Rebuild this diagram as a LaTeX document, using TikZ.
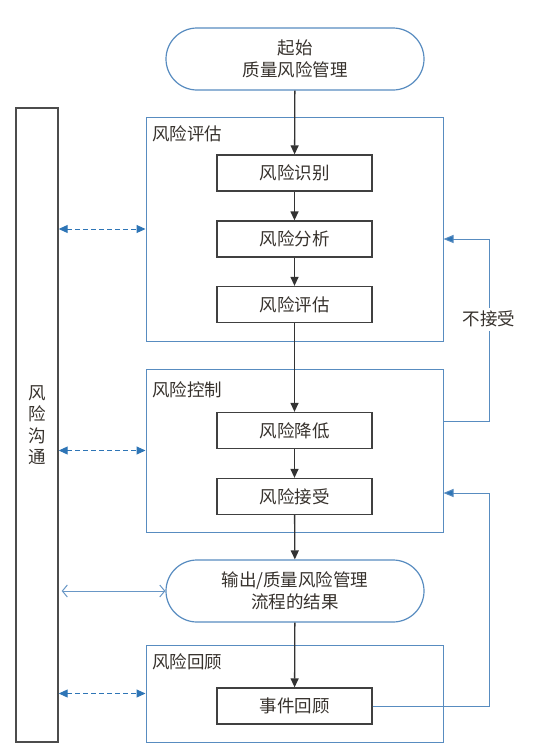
\documentclass[tikz,border=0pt]{standalone}
\usepackage{fontspec}
\setmainfont{Noto Sans CJK SC}
\usetikzlibrary{arrows.meta}
\definecolor{frameblue}{RGB}{88,140,192}
\definecolor{arrowblue}{RGB}{46,117,182}
\definecolor{txtgray}{RGB}{55,50,45}
\begin{document}
\begin{tikzpicture}[x=1pt,y=-1pt,
  every node/.style={font=\fontsize{17.5}{22}\selectfont, text=txtgray},
  stadium/.style={draw=frameblue, line width=1.2pt, rounded corners=31pt, minimum width=258pt, minimum height=62pt, align=center},
  stepbox/.style={draw=black!75, line width=1.3pt, minimum width=155pt, minimum height=36pt},
  group/.style={draw=frameblue, line width=1pt, minimum width=297pt},
  grouptitle/.style={anchor=west, inner sep=0pt},
  flow/.style={draw=black!80, line width=1.3pt, -{Triangle[length=9pt,width=8pt]}},
  talk/.style={draw=arrowblue, line width=1pt, dash pattern=on 5pt off 3pt, {Triangle[length=9pt,width=8pt]}-{Triangle[length=9pt,width=8pt]}},
  feedback/.style={draw=frameblue, line width=1pt, -{Triangle[length=10pt,width=8pt,fill=arrowblue]}}]
\useasboundingbox (0,0) rectangle (539,755);
\node[stadium] (start) at (295,59) {起始\\质量风险管理};
\node[draw=black!70, line width=1.4pt, minimum width=42pt, minimum height=634pt, align=center, font=\fontsize{17.5}{21.5}\selectfont] (comm) at (37,425) {风\\险\\沟\\通};
\node[group, minimum height=224pt] (assess) at (294.5,229) {};
\node[grouptitle] (assesslbl) at (152,134) {风险评估};
\node[group, minimum height=163pt] (control) at (294.5,450.5) {};
\node[grouptitle] (controllbl) at (152,390) {风险控制};
\node[group, minimum height=97pt] (review) at (294.5,693.5) {};
\node[grouptitle] (reviewlbl) at (152,662) {风险回顾};
\node[stepbox] (ident) at (294.5,173) {风险识别};
\node[stepbox] (analy) at (294.5,239) {风险分析};
\node[stepbox] (evalu) at (294.5,304.5) {风险评估};
\node[stepbox] (reduce) at (294.5,430.5) {风险降低};
\node[stepbox] (accept) at (294.5,496.5) {风险接受};
\node[stadium] (output) at (295,591) {输出/质量风险管理\\流程的结果};
\node[stepbox] (event) at (294.5,706) {事件回顾};
\draw[flow] (start) -- (ident);
\draw[flow] (ident) -- (analy);
\draw[flow] (analy) -- (evalu);
\draw[flow] (evalu) -- (reduce);
\draw[flow] (reduce) -- (accept);
\draw[flow] (accept) -- (output);
\draw[flow] (output) -- (event);
\draw[talk] (comm.east |- assess.west) -- (assess.west);
\draw[talk] (comm.east |- control.west) -- (control.west);
\draw[talk] (comm.east |- review.west) -- (review.west);
\draw[draw=frameblue!90, line width=1pt, {Straight Barb[length=5pt,width=12pt]}-{Straight Barb[length=5pt,width=12pt]}, shorten <=3pt] (comm.east |- output.west) -- (output.west);
\coordinate (r1) at (489,421);
\coordinate (r2) at (489,239);
\coordinate (r3) at (489,706);
\coordinate (r4) at (489,493);
\draw[feedback] (control.east |- r1) -- (r1) -- node[pos=0.56, fill=white, inner xsep=1pt] (reject) {不接受} (r2) -- (assess.east |- r2);
\draw[feedback] (event.east) -- (r3) -- (r4) -- (control.east |- r4);
\end{tikzpicture}
\end{document}
